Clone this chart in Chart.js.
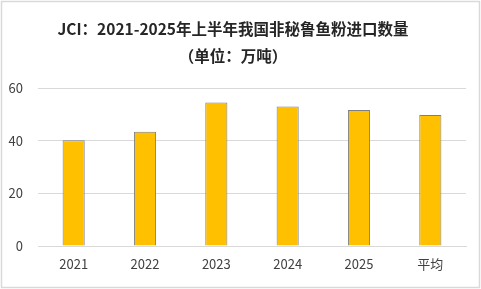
<!DOCTYPE html>
<html><head><meta charset="utf-8">
<script src="https://cdn.jsdelivr.net/npm/chart.js@4"></script>
<style>html,body{margin:0;padding:0;background:#fff}#wrap{width:481px;height:289px;position:relative}</style>
</head><body><div id="wrap"><canvas id="c" width="481" height="289"></canvas></div>
<script>
const categories = ['2021','2022','2023','2024','2025','平均'];
const imports = [40.2, 43.4, 54.6, 53.0, 51.7, 49.8];
const yTicks = [0, 20, 40, 60];
const titleText = 'JCI：2021-2025年上半年我国非秘鲁鱼粉进口数量';
const subtitleText = '（单位：万吨）';

const FONT = '"Noto Sans CJK SC", "Noto Sans", sans-serif';
const borderPlugin = {
  id: 'outerBorder',
  afterDraw(chart) {
    const ctx = chart.ctx;
    ctx.save();
    ctx.strokeStyle = '#d9d9d9';
    ctx.lineWidth = 1.5;
    ctx.strokeRect(1.5, 1.5, chart.width - 3, chart.height - 3);
    ctx.restore();
  }
};
new Chart(document.getElementById('c'), {
  type: 'bar',
  data: {
    labels: categories,
    datasets: [{
      data: imports,
      backgroundColor: '#FFC000',
      borderColor: '#7f7f7f',
      borderWidth: 1,
      categoryPercentage: 1,
      barPercentage: 0.31
    }]
  },
  options: {
    responsive: false,
    animation: false,
    devicePixelRatio: 1,
    layout: { padding: { left: 0, right: 15, top: 0, bottom: 13 } },
    plugins: {
      legend: { display: false },
      tooltip: { enabled: false },
      title: {
        display: true, text: titleText, color: '#262626',
        font: { family: FONT, size: 15.5, weight: 'bold', lineHeight: 1.2 },
        padding: { top: 20, bottom: 8 }
      },
      subtitle: {
        display: true, text: subtitleText, color: '#262626',
        font: { family: FONT, size: 15.5, weight: 'bold', lineHeight: 1.2 },
        padding: { top: 0, bottom: 23 }
      }
    },
    scales: {
      x: {
        grid: { display: false, drawTicks: false },
        border: { display: true, color: '#d9d9d9' },
        ticks: { color: '#404040', font: { family: FONT, size: 13 }, padding: 10 },
        afterFit(s) { s.height = 30; }
      },
      y: {
        min: 0, max: 60,
        afterBuildTicks(s) { s.ticks = yTicks.map(v => ({ value: v })); },
        grid: { color: '#d9d9d9', drawTicks: false },
        border: { display: false },
        ticks: { color: '#404040', font: { family: FONT, size: 13 }, padding: 15 },
        afterFit(s) { s.width = 38; }
      }
    }
  },
  plugins: [borderPlugin]
});
</script></body></html>
